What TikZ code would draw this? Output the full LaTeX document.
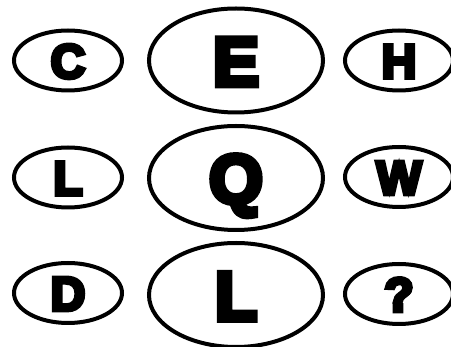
\documentclass[tikz,border=0pt]{standalone}
\usepackage{fontspec}
\newfontfamily\heavy{Liberation Sans}[BoldFeatures={FakeBold=8}]
\usetikzlibrary{shapes.geometric}
\begin{document}
\begin{tikzpicture}[x=1pt,y=-1pt,
  oval/.style={draw=black,line width=4pt,ellipse,inner sep=0pt,text depth=0pt},
  small/.style={oval,minimum width=108pt,minimum height=60pt,text height=35pt,font=\fontsize{48}{48}\heavy\bfseries},
  big/.style={oval,minimum width=174pt,minimum height=104pt,text height=50pt,font=\fontsize{69}{69}\heavy\bfseries}]
\useasboundingbox (0,0) rectangle (451,347);
\fill[white] (0,0) rectangle (451,347);
\node[small] (c) at (68,60.5) {C};
\node[big]   (e) at (236,60.5) {E};
\node[small] (h) at (399,60.5) {H};
\node[small] (l1) at (68,177.5) {L};
\node[big]   (q) at (236,178) {Q};
\node[small] (w) at (399,177) {W};
\node[small] (d) at (68,293) {D};
\node[big]   (l2) at (236,295) {L};
\node[small] (qm) at (399,294) {?};
\end{tikzpicture}
\end{document}
